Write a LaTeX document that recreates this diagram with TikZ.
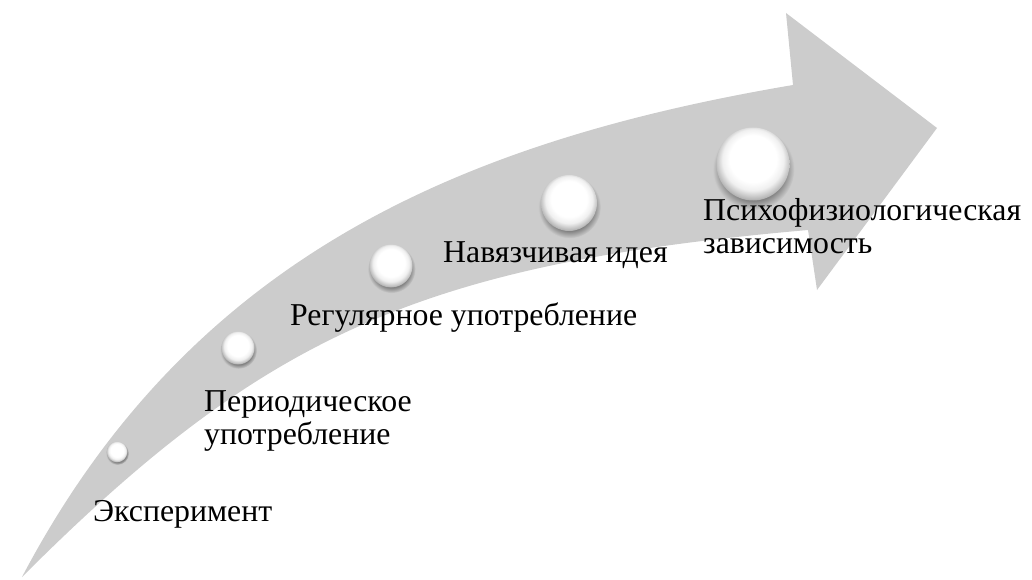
\documentclass[tikz,border=0pt]{standalone}
\usepackage{fontspec}
\setmainfont{Liberation Serif}
\newfontfamily\labelfont{Liberation Serif}
\definecolor{arrowgray}{RGB}{204,204,204}
\pgfdeclareradialshading{pearl}{\pgfpoint{0bp}{6bp}}{color(0bp)=(white); color(16bp)=(white); color(21bp)=(black!6); color(26bp)=(black!28); color(30bp)=(black!50); color(40bp)=(black!55)}
\pgfdeclareradialshading{pshadow}{\pgfpoint{0bp}{0bp}}{color(0bp)=(black!60); color(19bp)=(black!50); color(25bp)=(arrowgray); color(40bp)=(arrowgray)}
\tikzset{
  lbl/.style={anchor=base west, inner sep=0pt, align=left, font=\labelfont\fontsize{31.8}{32.5}\selectfont, text=black},
  pearlshadow/.style={shading=pshadow, draw=none},
  pearlball/.style={shading=pearl, draw=none}
}
\newcommand{\pearl}[4]{% name, x, y, r
  \path[pearlshadow] (#2+0.5,#3+0.14*#4) circle[radius=1.12*#4];
  \node[circle, minimum size=2*#4 pt, inner sep=0pt, pearlball] (#1) at (#2,#3) {};
}
\begin{document}
\begin{tikzpicture}[x=1pt,y=-1pt]
\useasboundingbox (0,0) rectangle (1032,580);
% big curved arrow
\fill[arrowgray] (22,577) .. controls (189,260) and (456,142) .. (793,85)
  -- (786,13) -- (937,128) -- (817,290) -- (808,230)
  .. controls (422,264) and (265,334) .. (22,577) -- cycle;
% pearls
\pearl{p1}{117}{452}{10.3}
\pearl{p2}{238}{348}{16.5}
\pearl{p3}{391}{266}{21.5}
\pearl{p4}{569}{203}{28}
\pearl{p5}{753}{164}{36.5}
% labels
\node[lbl] (t1) at (93,521) {Эксперимент};
\node[lbl] (t2) at (204,444) {Периодическое\\употребление};
\node[lbl] (t3) at (290,325) {Регулярное употребление};
\node[lbl] (t4) at (443,262) {Навязчивая идея};
\node[lbl] (t5) at (703,253) {Психофизиологическая\\зависимость};
\end{tikzpicture}
\end{document}
